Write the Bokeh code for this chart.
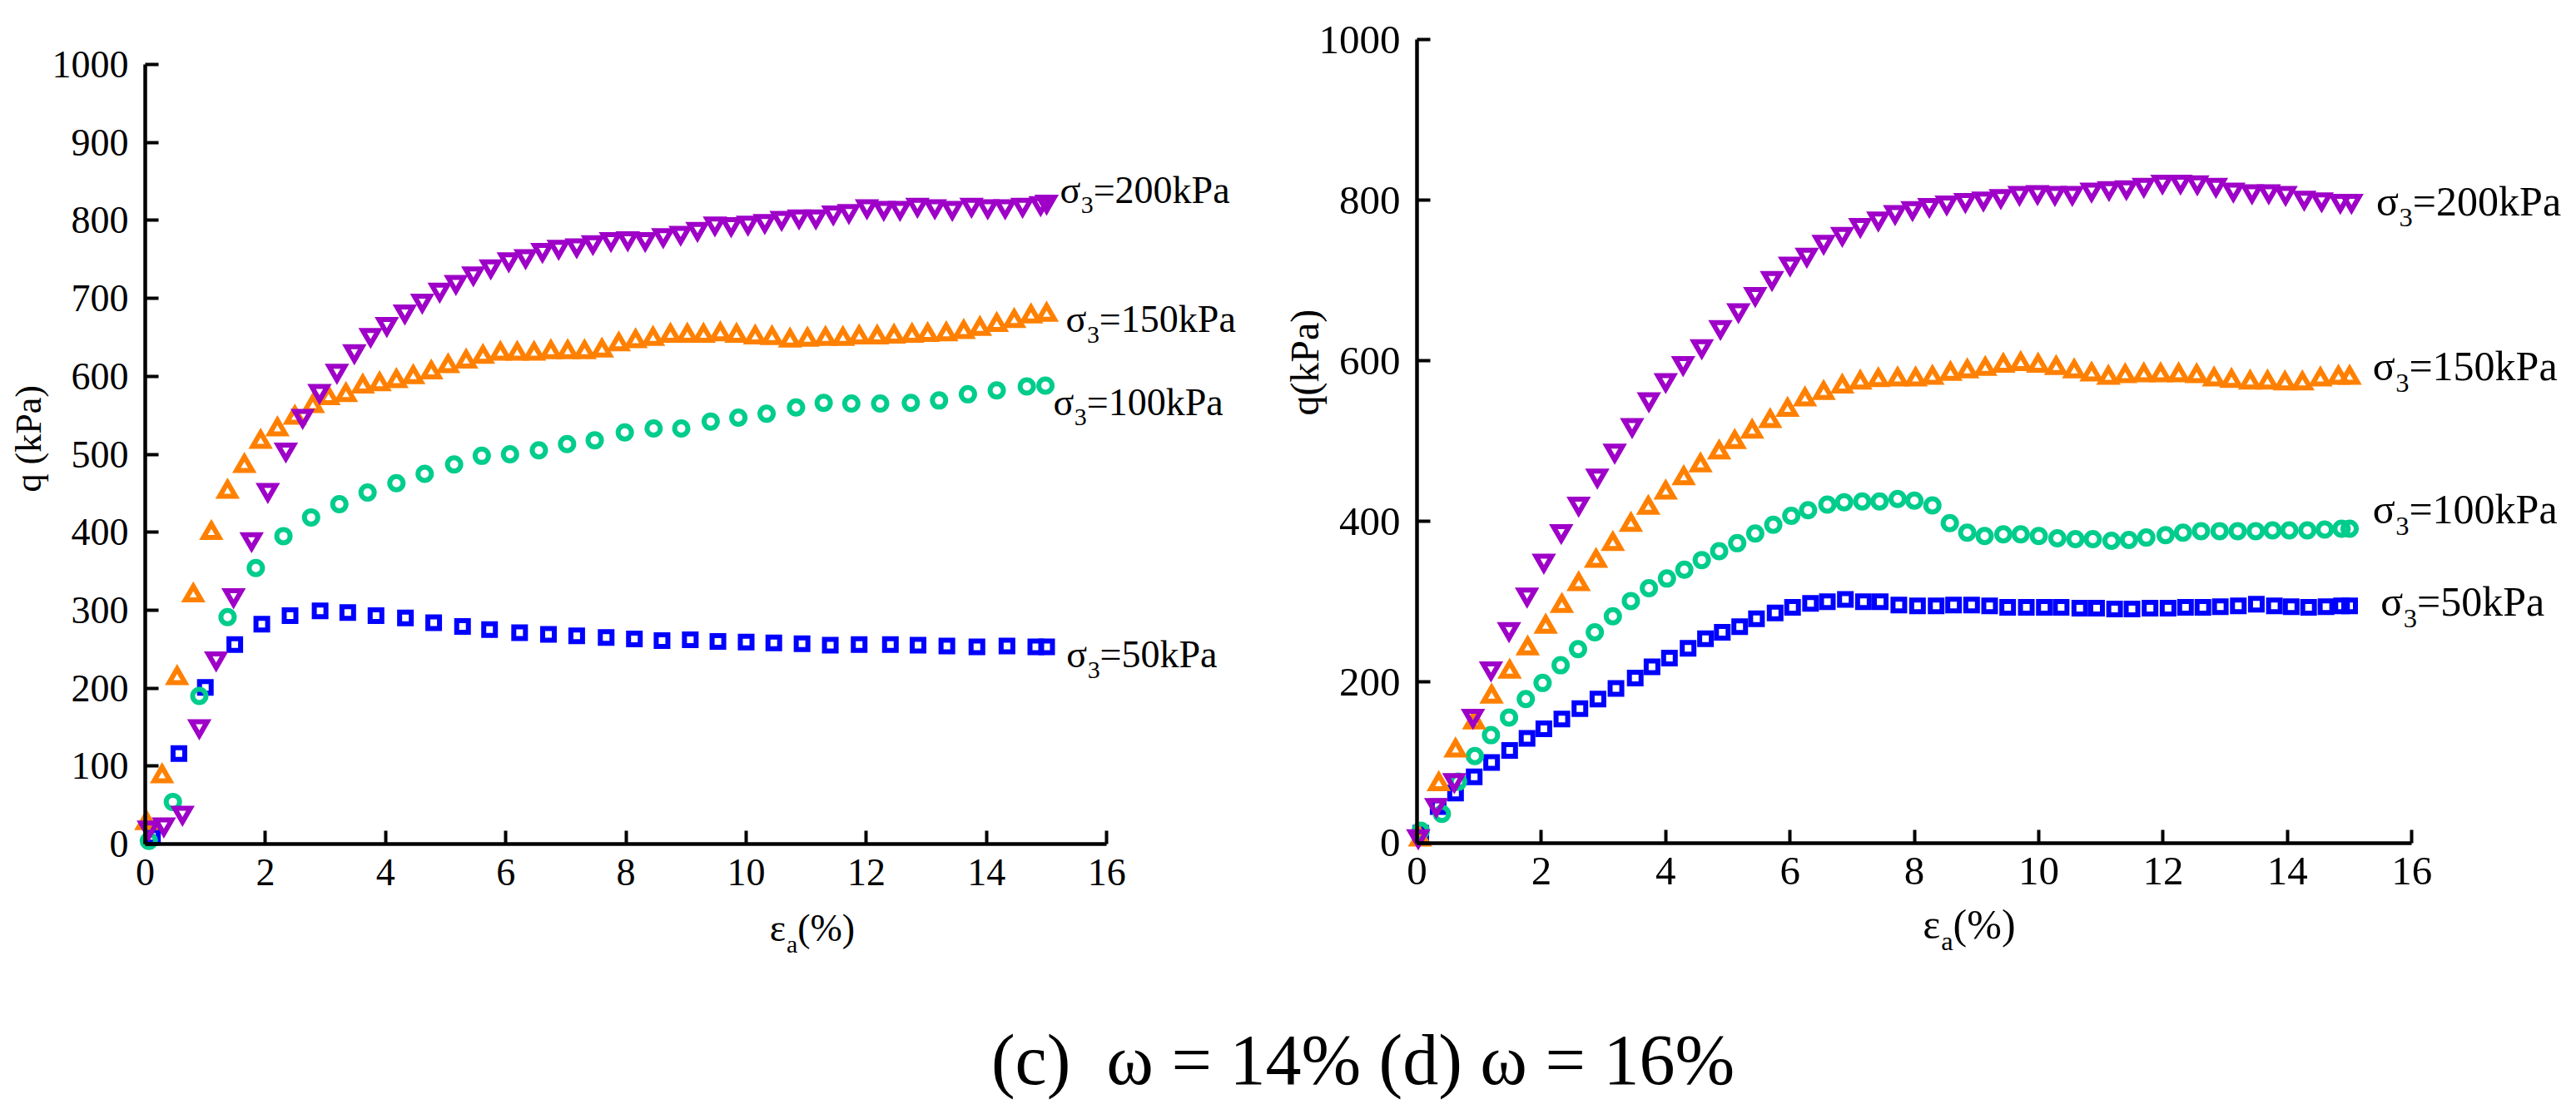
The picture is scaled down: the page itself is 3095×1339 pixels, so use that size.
import math
from bokeh.plotting import figure
from bokeh.models import Label, FixedTicker, Range1d, LinearAxis
from bokeh.embed import file_html
from bokeh.resources import INLINE

# ---------------- data: panel (c) omega = 14% ----------------
C_EA_200 = [0.06, 0.31, 0.62, 0.90, 1.18, 1.47, 1.77, 2.04, 2.34, 2.62, 2.90, 3.19, 3.48, 3.75, 4.02,
            4.32, 4.61, 4.90, 5.17, 5.46, 5.75, 6.05, 6.33, 6.61, 6.88, 7.18, 7.45, 7.75, 8.03, 8.32,
            8.62, 8.91, 9.19, 9.48, 9.75, 10.03, 10.31, 10.59, 10.88, 11.16, 11.45, 11.71, 12.01, 12.29,
            12.56, 12.85, 13.14, 13.43, 13.75, 14.02, 14.31, 14.60, 14.90, 15.00]
C_Q_200 = [21, 25, 40, 151, 238, 319, 391, 454, 506, 549, 581, 607, 632, 653, 667,
           683, 697, 711, 721, 732, 741, 750, 754, 762, 766, 768, 772, 776, 777, 776,
           781, 784, 789, 796, 795, 797, 799, 803, 805, 805, 810, 812, 818, 816,
           816, 820, 818, 816, 820, 818, 818, 820, 822, 824]

C_EA_150 = [0.02, 0.28, 0.53, 0.80, 1.10, 1.37, 1.65, 1.92, 2.20, 2.49, 2.79, 3.05, 3.34, 3.62, 3.90,
            4.18, 4.46, 4.76, 5.04, 5.34, 5.62, 5.91, 6.19, 6.47, 6.75, 7.03, 7.31, 7.60, 7.88, 8.16,
            8.45, 8.74, 9.02, 9.29, 9.57, 9.84, 10.15, 10.43, 10.73, 11.02, 11.32, 11.61, 11.88, 12.18,
            12.46, 12.76, 13.02, 13.33, 13.62, 13.89, 14.17, 14.46, 14.74, 15.00]
C_Q_150 = [27, 87, 213, 319, 399, 452, 485, 516, 532, 547, 562, 572, 576, 587, 590,
           594, 599, 605, 613, 619, 625, 629, 629, 629, 631, 631, 631, 633, 641, 645,
           648, 652, 652, 652, 654, 652, 650, 649, 646, 647, 648, 648, 650, 650,
           651, 652, 653, 654, 657, 661, 666, 671, 677, 679]

C_EA_100 = [0.06, 0.46, 0.90, 1.37, 1.84, 2.30, 2.76, 3.23, 3.70, 4.18, 4.65, 5.14, 5.60, 6.07, 6.55,
            7.02, 7.48, 7.98, 8.46, 8.92, 9.41, 9.87, 10.34, 10.83, 11.29, 11.75, 12.23, 12.74, 13.21,
            13.69, 14.17, 14.67, 14.98]
C_Q_100 = [4, 54, 190, 291, 354, 395, 419, 436, 451, 463, 475, 487, 498, 500, 505,
           513, 518, 528, 533, 533, 542, 547, 552, 560, 566, 565, 565, 566, 569,
           577, 582, 587, 588]

C_EA_50 = [0.12, 0.56, 1.00, 1.49, 1.94, 2.41, 2.91, 3.37, 3.84, 4.33, 4.80, 5.28, 5.73, 6.23, 6.71,
           7.18, 7.67, 8.14, 8.60, 9.07, 9.53, 10.00, 10.46, 10.93, 11.40, 11.88, 12.40, 12.86, 13.34,
           13.84, 14.34, 14.82, 15.00]
C_Q_50 = [10, 116, 201, 256, 282, 293, 299, 297, 293, 290, 284, 279, 275, 271, 269,
          267, 265, 263, 261, 262, 260, 259, 258, 257, 255, 256, 256, 255, 254,
          253, 254, 253, 253]

# ---------------- data: panel (d) omega = 16% ----------------
D_EA_200 = [0.02, 0.31, 0.60, 0.90, 1.19, 1.48, 1.77, 2.04, 2.32, 2.60, 2.90, 3.18, 3.46, 3.73, 4.00,
            4.28, 4.58, 4.88, 5.17, 5.44, 5.71, 6.00, 6.27, 6.54, 6.84, 7.13, 7.42, 7.69, 7.97, 8.24,
            8.52, 8.82, 9.11, 9.39, 9.69, 9.98, 10.26, 10.54, 10.85, 11.13, 11.41, 11.69, 11.99, 12.28,
            12.55, 12.85, 13.13, 13.43, 13.70, 13.97, 14.27, 14.55, 14.85, 15.03]
D_Q_200 = [8, 47, 78, 158, 217, 266, 309, 351, 388, 422, 457, 488, 520, 552, 576,
           597, 618, 642, 663, 683, 703, 721, 732, 748, 758, 769, 777, 785, 790, 794,
           797, 800, 802, 805, 809, 810, 809, 809, 813, 815, 816, 819, 823, 823,
           822, 819, 813, 811, 811, 809, 803, 801, 799, 799]

D_EA_150 = [0.05, 0.35, 0.62, 0.92, 1.20, 1.49, 1.78, 2.07, 2.33, 2.60, 2.88, 3.15, 3.44, 3.72, 4.00,
            4.29, 4.56, 4.86, 5.11, 5.39, 5.68, 5.96, 6.24, 6.54, 6.84, 7.13, 7.42, 7.73, 8.02, 8.29,
            8.58, 8.85, 9.14, 9.43, 9.71, 9.99, 10.28, 10.57, 10.85, 11.12, 11.39, 11.69, 11.96, 12.25,
            12.54, 12.82, 13.10, 13.40, 13.68, 13.96, 14.24, 14.53, 14.82, 15.00]
D_Q_150 = [4, 73, 115, 150, 182, 213, 242, 269, 295, 322, 351, 372, 396, 417, 436,
           454, 470, 486, 499, 512, 525, 539, 552, 560, 568, 573, 576, 577, 577, 579,
           584, 587, 590, 594, 596, 594, 591, 587, 583, 579, 581, 582, 582, 582,
           581, 577, 575, 573, 573, 572, 572, 577, 579, 579]

D_EA_100 = [0.06, 0.40, 0.66, 0.93, 1.19, 1.48, 1.75, 2.02, 2.31, 2.59, 2.86, 3.15, 3.44, 3.73, 4.02,
            4.30, 4.58, 4.86, 5.15, 5.44, 5.73, 6.02, 6.29, 6.60, 6.87, 7.16, 7.44, 7.73, 8.00, 8.29,
            8.57, 8.85, 9.13, 9.43, 9.71, 10.00, 10.30, 10.59, 10.87, 11.17, 11.45, 11.73, 12.04, 12.32,
            12.61, 12.91, 13.20, 13.49, 13.76, 14.03, 14.32, 14.60, 14.87, 15.00]
D_Q_100 = [15, 36, 76, 108, 134, 156, 179, 199, 221, 241, 262, 282, 301, 317, 329,
           340, 352, 363, 373, 385, 396, 407, 414, 421, 424, 425, 425, 428, 426, 420,
           398, 386, 382, 384, 384, 382, 379, 378, 378, 376, 377, 380, 383, 386,
           388, 388, 388, 388, 389, 389, 389, 390, 391, 391]

D_EA_50 = [0.06, 0.34, 0.62, 0.92, 1.20, 1.49, 1.77, 2.04, 2.33, 2.62, 2.91, 3.20, 3.51, 3.78, 4.06,
           4.36, 4.64, 4.91, 5.19, 5.46, 5.76, 6.04, 6.33, 6.60, 6.89, 7.18, 7.45, 7.75, 8.05, 8.35,
           8.63, 8.92, 9.21, 9.50, 9.80, 10.09, 10.36, 10.66, 10.93, 11.22, 11.50, 11.79, 12.08, 12.36,
           12.64, 12.92, 13.21, 13.50, 13.79, 14.06, 14.34, 14.62, 14.87, 15.00]
D_Q_50 = [12, 45, 62, 82, 100, 115, 130, 142, 154, 167, 179, 192, 205, 219, 230,
          242, 254, 262, 269, 279, 286, 293, 298, 300, 303, 300, 300, 296, 295, 295,
          296, 296, 295, 293, 293, 293, 293, 292, 292, 291, 291, 292, 292, 293,
          293, 294, 295, 297, 295, 294, 293, 294, 295, 295]

SIGMA3 = [50, 100, 150, 200]
X_TICKS = [0, 2, 4, 6, 8, 10, 12, 14, 16]
Y_TICKS_C = [0, 100, 200, 300, 400, 500, 600, 700, 800, 900, 1000]
Y_TICKS_D = [0, 200, 400, 600, 800, 1000]
CAPTION = "(c)\u00a0 ω = 14% (d) ω = 16%"

# ---------------- styling ----------------
FONT = "Liberation Serif"
COLORS = {50: "#0000FF", 100: "#00CC8C", 150: "#FF8000", 200: "#9E00C8"}
MARKERS = {50: ("square", 14), 100: ("circle", 16), 150: ("triangle", 19), 200: ("inverted_triangle", 19)}

CHAR_W = {"σ": 0.55, "ε": 0.44, "=": 0.564, "k": 0.5, "P": 0.556, "a": 0.444, "(": 0.333,
          ")": 0.333, "%": 0.833, "q": 0.5, " ": 0.25}

W, H = 3079, 1323

# each panel's data ranges span the whole canvas so nothing is clipped
PANELS = {
    "c": dict(x0_px=174.0, ppx=72.2, y0_px=1014.0, ppy=0.937),   # canvas px of data origin
    "d": dict(x0_px=1702.0, ppx=74.7, y0_px=1012.5, ppy=0.9655),
}


def panel_ranges(k):
    g = PANELS[k]
    xr = Range1d((0 - g["x0_px"]) / g["ppx"], (W - g["x0_px"]) / g["ppx"])
    yr = Range1d((g["y0_px"] - H) / g["ppy"], g["y0_px"] / g["ppy"])
    return xr, yr


p = figure(width=W, height=H, output_backend="svg", toolbar_location=None,
           x_range=Range1d(0, W), y_range=Range1d(0, H),
           x_axis_type=None, y_axis_type=None,
           min_border_left=0, min_border_right=0, min_border_top=0, min_border_bottom=0)
p.outline_line_color = None
p.background_fill_color = "white"
p.border_fill_color = "white"

p.extra_x_ranges = {}
p.extra_y_ranges = {}
for k in PANELS:
    xr, yr = panel_ranges(k)
    p.extra_x_ranges["x" + k] = xr
    p.extra_y_ranges["y" + k] = yr

SUB_DY = -0.40   # subscript shift (in em of the main text) between "middle" anchors


def rich_label(k, x, y, parts, size, align="left"):
    widths = [sum(CHAR_W.get(ch, 0.5) for ch in t) * size * s for t, s, _ in parts]
    total = sum(widths)
    off = 0.0 if align == "left" else -total / 2.0
    for (t, s, dy), w in zip(parts, widths):
        p.add_layout(Label(x=x, y=y, x_range_name="x" + k, y_range_name="y" + k,
                           x_offset=off, y_offset=dy * size, text=t,
                           text_font=FONT, text_font_size=f"{size * s:.1f}px",
                           text_baseline="middle", text_align="left", text_color="black"))
        off += w


def style_axis(ax, tick_size):
    ax.axis_line_width = 4.5
    ax.axis_line_color = "black"
    ax.major_tick_line_width = 4
    ax.major_tick_line_color = "black"
    ax.major_tick_in = 16
    ax.major_tick_out = 0
    ax.minor_tick_line_color = None
    ax.major_label_text_font = FONT
    ax.major_label_text_font_size = f"{tick_size}px"
    ax.major_label_text_color = "black"


def draw_panel(k, y_ticks, tick_size, series, label_pos, label_size, xlab, ylab, ylab_text, ylab_size):
    xa = LinearAxis(x_range_name="x" + k, y_range_name="y" + k, fixed_location=0, bounds=(0, 16),
                    ticker=FixedTicker(ticks=X_TICKS), major_label_standoff=18)
    style_axis(xa, tick_size)
    p.add_layout(xa, "below")
    ya = LinearAxis(x_range_name="x" + k, y_range_name="y" + k, fixed_location=0, bounds=(0, 1000),
                    ticker=FixedTicker(ticks=y_ticks), major_label_standoff=20)
    style_axis(ya, tick_size)
    p.add_layout(ya, "left")

    for s3 in (50, 100, 150, 200):
        ea, q = series[s3]
        m, sz = MARKERS[s3]
        p.scatter(ea, q, marker=m, size=sz, fill_color=None, line_color=COLORS[s3],
                  line_width=6, line_join="miter", x_range_name="x" + k, y_range_name="y" + k)

    for s3 in SIGMA3:
        lx, ly = label_pos[s3]
        rich_label(k, lx, ly, [("σ", 1, 0), ("3", 0.65, SUB_DY), (f"={s3}kPa", 1, 0)], label_size)

    rich_label(k, xlab[0], xlab[1], [("ε", 1, 0), ("a", 0.65, SUB_DY), ("(%)", 1, 0)], xlab[2],
               align="center")
    p.add_layout(Label(x=ylab[0], y=ylab[1], x_range_name="x" + k, y_range_name="y" + k,
                       text=ylab_text, angle=math.pi / 2,
                       text_font=FONT, text_font_size=f"{ylab_size}px", text_align="center",
                       text_baseline="middle", text_color="black"))


draw_panel("c", Y_TICKS_C, 46,
           {200: (C_EA_200, C_Q_200), 150: (C_EA_150, C_Q_150),
            100: (C_EA_100, C_Q_100), 50: (C_EA_50, C_Q_50)},
           {200: (15.22, 839), 150: (15.32, 673), 100: (15.11, 567), 50: (15.33, 243)},
           46, (11.1, -108, 46), (-1.94, 520), "q (kPa)", 44)

draw_panel("d", Y_TICKS_D, 49,
           {200: (D_EA_200, D_Q_200), 150: (D_EA_150, D_Q_150),
            100: (D_EA_100, D_Q_100), 50: (D_EA_50, D_Q_50)},
           {200: (15.43, 799), 150: (15.37, 593), 100: (15.37, 415), 50: (15.50, 300)},
           50, (8.88, -101, 50), (-1.81, 598), "q(kPa)", 48)

# caption (default range is canvas pixels, y measured from the bottom)
p.add_layout(Label(x=1637, y=50, text=CAPTION, text_font=FONT, text_font_size="86px",
                   text_align="center", text_baseline="middle", text_color="black"))

open("out.html", "w").write(file_html(p, INLINE))
